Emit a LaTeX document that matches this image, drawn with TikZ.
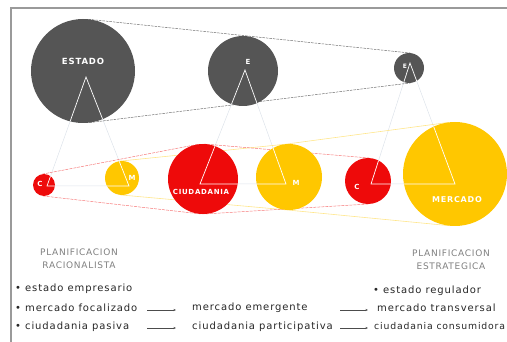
\documentclass[tikz,border=0pt]{standalone}
\usepackage{fontspec}
\setmainfont{DejaVu Sans}
\newfontfamily\lblfont[LetterSpace=10]{DejaVu Sans Bold}
\newfontfamily\lstfont[LetterSpace=9]{DejaVu Sans}
\newfontfamily\planfont[LetterSpace=8]{DejaVu Sans}
\usetikzlibrary{arrows.meta}
\definecolor{dgray}{HTML}{555555}
\definecolor{cred}{HTML}{EE0A0A}
\definecolor{cyel}{HTML}{FFC700}
\definecolor{faint}{HTML}{DDE3EA}
\definecolor{framec}{HTML}{9A9A9A}
\pgfdeclarelayer{bg}
\pgfsetlayers{bg,main}
\begin{document}
\begin{tikzpicture}[x=1pt,y=-1pt,
  ball/.style={circle,inner sep=0pt,outer sep=0pt,minimum size=#1},
  dball/.style={ball=#1,fill=dgray},
  rball/.style={ball=#1,fill=cred},
  yball/.style={ball=#1,fill=cyel},
  inlbl/.style={text=white,inner sep=0pt,font=\lblfont\fontsize{7}{8}\selectfont},
  tri/.style={draw=faint,line width=0.5pt},
  wtri/.style={draw=white,line width=0.7pt},
  gcone/.style={draw=dgray!85,dash pattern=on 2.5pt off 1pt,line width=0.5pt},
  rcone/.style={draw=cred!55,dash pattern=on 3pt off 1pt,line width=0.5pt},
  ycone/.style={draw=cyel!45,line width=0.6pt},
  plan/.style={text=black!50,inner sep=0pt,align=center,font=\planfont\fontsize{9}{13}\selectfont},
  item/.style={anchor=west,inner sep=0pt,text=black!85,font=\lstfont\fontsize{10}{11}\selectfont},
  flow/.style={draw=black!70,line width=0.4pt,-{Stealth[length=2.5pt,width=2pt]}}
]
\useasboundingbox (0,0) rectangle (507,342);
% frame
\draw[framec,line width=2pt] (11,343) -- (11,8) -- (508,8);

% triangle points
\coordinate (ta) at (86,77);  \coordinate (tal) at (47,186);  \coordinate (tar) at (129,186);
\coordinate (tb) at (245,70); \coordinate (tbl) at (200,184); \coordinate (tbr) at (286,184);
\coordinate (tc) at (410,63); \coordinate (tcl) at (371,184); \coordinate (tcr) at (455,184);

% circles
\path (83,71) node[dball=104] (estado) {}
      (243,71) node[dball=70] (e2) {}
      (409,68) node[dball=30] (e3) {}
      (44,185) node[rball=22] (c1) {}
      (122,178) node[yball=34] (m1) {}
      (203,179) node[rball=70] (ciud) {}
      (289,177) node[yball=66] (m2) {}
      (368,181) node[rball=46] (c2) {}
      (455,174) node[yball=104] (merc) {};

% lines behind the circles
\begin{pgfonlayer}{bg}
  \draw[tri] (tal) -- (ta) -- (tar) -- cycle;
  \draw[tri] (tbl) -- (tb) -- (tbr) -- cycle;
  \draw[tri] (tcl) -- (tc) -- (tcr) -- cycle;
  \draw[gcone] (estado.84) -- (e3.84);
  \draw[gcone] (estado.-83) -- (e3.-83);
  \draw[ycone] (m1.96) -- (m2.96) -- (merc.97);
  \draw[ycone] (m1.-95) -- (m2.-95) -- (merc.-96);
  \draw[rcone] (c1.101) -- (ciud.101) -- (ciud.85) -- (c2.85);
  \draw[rcone] (c1.-97) -- (ciud.-97) -- (ciud.-87) -- (c2.-87);
\end{pgfonlayer}

% white triangle parts inside the circles
\begin{scope}
  \clip (83,71) circle[radius=52pt] (243,71) circle[radius=35pt] (409,68) circle[radius=15pt]
        (44,185) circle[radius=11pt] (122,178) circle[radius=17pt] (203,179) circle[radius=35pt]
        (289,177) circle[radius=33pt] (368,181) circle[radius=23pt] (455,174) circle[radius=52pt];
  \draw[wtri] (tal) -- (ta) -- (tar) -- cycle;
  \draw[wtri] (tbl) -- (tb) -- (tbr) -- cycle;
  \draw[wtri] (tcl) -- (tc) -- (tcr) -- cycle;
\end{scope}

% labels in circles
\node[inlbl,font=\lblfont\fontsize{8.5}{9}\selectfont] (lestado) at (83,61) {ESTADO};
\node[inlbl] (le2) at (248,62) {E};
\node[inlbl,font=\lblfont\fontsize{6}{7}\selectfont] (le3) at (405,66) {E};
\node[inlbl] (lc1) at (40,184) {C};
\node[inlbl] (lm1) at (132,178) {M};
\node[inlbl] (lciud) at (201,192) {CIUDADANIA};
\node[inlbl] (lm2) at (296,183) {M};
\node[inlbl] (lc2) at (357,187) {C};
\node[inlbl,font=\lblfont\fontsize{8}{9}\selectfont] (lmerc) at (457,200) {MERCADO};

% headings
\node[plan] (planr) at (79,258.5) {PLANIFICACION\\RACIONALISTA};
\node[plan] (plane) at (451,260) {PLANIFICACION\\ESTRATEGICA};

% list
\node[item] (i1) at (15,289) {• estado empresario};
\node[item] (i2) at (15,308) {• mercado focalizado};
\node[item] (i3) at (15,327) {• ciudadania pasiva};
\node[item] (j2) at (192,308) {mercado emergente};
\node[item] (j3) at (192,327) {ciudadania participativa};
\node[item] (k1) at (373,291) {• estado regulador};
\node[item] (k2) at (377,308) {mercado transversal};
\node[item,font=\lstfont\fontsize{9.3}{11}\selectfont] (k3) at (374,326) {ciudadania consumidora};
\coordinate (a1s) at (147,310); \coordinate (a1e) at (176,310);
\coordinate (a2s) at (147,328); \coordinate (a2e) at (176,328);
\coordinate (b1s) at (340,310); \coordinate (b1e) at (368,310);
\coordinate (b2s) at (340,328); \coordinate (b2e) at (368,328);
\draw[flow] (a1s) -- (a1e);
\draw[flow] (a2s) -- (a2e);
\draw[flow] (b1s) -- (b1e);
\draw[flow] (b2s) -- (b2e);
\end{tikzpicture}
\end{document}
